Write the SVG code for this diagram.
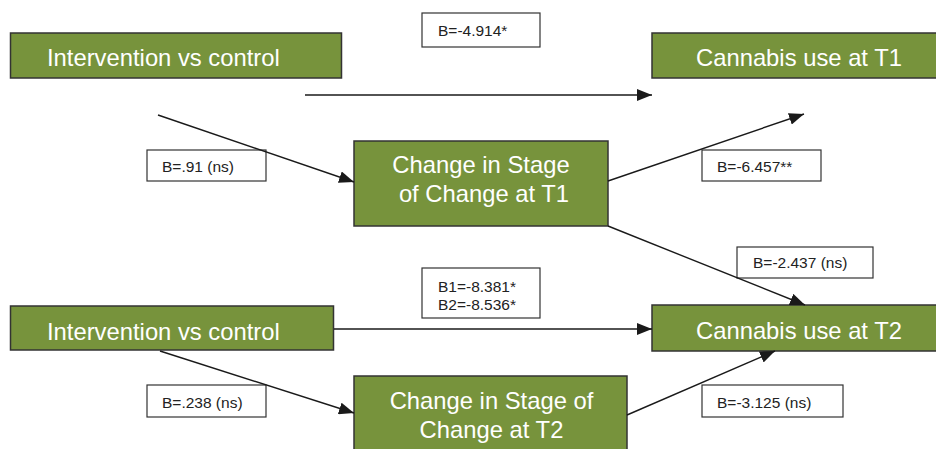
<svg xmlns="http://www.w3.org/2000/svg" width="936" height="449" viewBox="0 0 936 449">
<defs>
<style>
.node rect{fill:#77933C;stroke:#333;stroke-width:1.5}
.node text{fill:#fff;font-family:"Liberation Sans",Arial,sans-serif;font-size:23.8px}
.lbl rect{fill:#fff;stroke:#333;stroke-width:1.2}
.lbl text{fill:#222;font-family:"Liberation Sans",Arial,sans-serif;font-size:15.5px}
.conn line{stroke:#1a1a1a;stroke-width:1.4;fill:none}
</style>
<marker id="ah" markerUnits="userSpaceOnUse" markerWidth="16" markerHeight="12" refX="15" refY="6" orient="auto">
<path d="M0,0 L15,6 L0,12 Z" fill="#1a1a1a"/>
</marker>
</defs>
<rect width="936" height="449" fill="#fff"/>

<g id="iv1" class="node"><rect x="10.5" y="33" width="331" height="45"/><text x="47" y="66">Intervention vs control</text></g>
<g id="cu1" class="node"><rect x="652" y="33" width="300" height="45"/><text x="696" y="66">Cannabis use at T1</text></g>
<g id="sc1" class="node"><rect x="354" y="141" width="254" height="85"/><text x="481" y="173" text-anchor="middle">Change in Stage</text><text x="484" y="202" text-anchor="middle">of Change at T1</text></g>
<g id="iv2" class="node"><rect x="10.5" y="306" width="323" height="44"/><text x="47" y="340">Intervention vs control</text></g>
<g id="cu2" class="node"><rect x="652" y="305" width="300" height="46"/><text x="696" y="339">Cannabis use at T2</text></g>
<g id="sc2" class="node"><rect x="354" y="376" width="273" height="90"/><text x="491.5" y="409" text-anchor="middle">Change in Stage of</text><text x="491.5" y="438" text-anchor="middle">Change at T2</text></g>

<g id="labels" class="lbl">
<g><rect x="422" y="13" width="118" height="34"/><text x="438" y="36">B=-4.914*</text></g>
<g><rect x="147" y="150" width="119" height="31"/><text x="162" y="172">B=.91 (ns)</text></g>
<g><rect x="702" y="150" width="119" height="31"/><text x="717" y="172">B=-6.457**</text></g>
<g><rect x="737" y="247" width="136" height="31"/><text x="753" y="268">B=-2.437 (ns)</text></g>
<g><rect x="422" y="268" width="118" height="50"/><text x="438" y="292">B1=-8.381*</text><text x="438" y="310">B2=-8.536*</text></g>
<g><rect x="147" y="385" width="119" height="32"/><text x="162" y="408">B=.238 (ns)</text></g>
<g><rect x="702" y="385" width="141" height="32"/><text x="717" y="408">B=-3.125 (ns)</text></g>
</g>

<g id="connectors" class="conn">
<line x1="305" y1="95" x2="652" y2="95" marker-end="url(#ah)"/>
<line x1="158" y1="115" x2="354" y2="182" marker-end="url(#ah)"/>
<line x1="608" y1="181" x2="804" y2="114" marker-end="url(#ah)"/>
<line x1="608" y1="226" x2="805" y2="305" marker-end="url(#ah)"/>
<line x1="334" y1="329" x2="652" y2="329" marker-end="url(#ah)"/>
<line x1="160" y1="351" x2="354" y2="413" marker-end="url(#ah)"/>
<line x1="627" y1="415" x2="775" y2="351" marker-end="url(#ah)"/>
</g>
</svg>
